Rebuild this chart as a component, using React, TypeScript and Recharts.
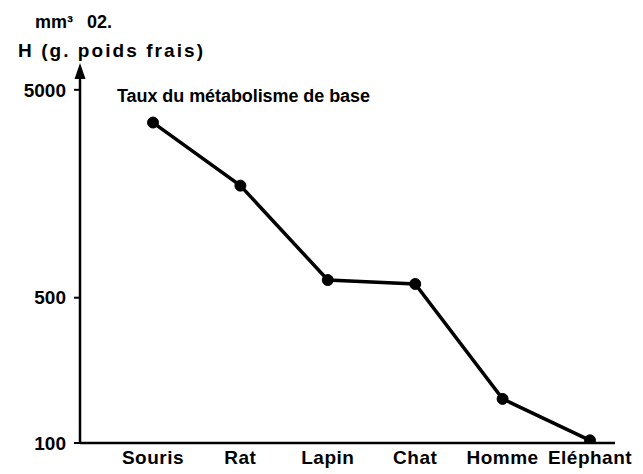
import React from 'react';
import { LineChart, Line, XAxis, YAxis } from 'recharts';

const categories = ['Souris', 'Rat', 'Lapin', 'Chat', 'Homme', 'Eléphant'];
const metabolicRate = [3480, 1730, 608, 582, 163, 103];
const yTicks = [100, 500, 5000];
const yDomain = [100, 5700];
const titleText = 'Taux du métabolisme de base';
const unitPart1 = 'mm³';
const unitPart2 = '02.';
const unitLine2 = 'H (g. poids frais)';

const data = categories.map((name, i) => ({ name, value: metabolicRate[i] }));

const FONT = '"Liberation Sans", Arial, Helvetica, sans-serif';

function AxisDecor(props: any) {
  const vb = props.viewBox || {};
  const ax = (vb.x || 0) + (vb.width || 0);
  const top = vb.y || 0;
  return (
    <g>
      <polygon
        points={`${ax - 5.5},${top + 1} ${ax + 5.5},${top + 1} ${ax},${top - 15}`}
        fill="#000"
      />
      <text x={35} y={28} fontFamily={FONT} fontWeight="bold" fontSize={18} fill="#000">
        {unitPart1}
      </text>
      <text x={87} y={28} fontFamily={FONT} fontWeight="bold" fontSize={18} fill="#000">
        {unitPart2}
      </text>
      <text x={18} y={57} fontFamily={FONT} fontWeight="bold" fontSize={19} fill="#000" textLength={185} lengthAdjust="spacing">
        {unitLine2}
      </text>
      <text x={117} y={102} fontFamily={FONT} fontWeight="bold" fontSize={18} fill="#000" textLength={253} lengthAdjust="spacing">
        {titleText}
      </text>
    </g>
  );
}

export default function App() {
  return (
    <div style={{ position: 'absolute', left: 0, top: 0, width: 643, height: 474, background: '#fff' }}>
      <LineChart
        width={643}
        height={474}
        data={data}
        margin={{ top: 78, right: 28, bottom: 0, left: 0 }}
      >
        <XAxis
          dataKey="name"
          type="category"
          height={31}
          padding={{ left: 73, right: 25 }}
          axisLine={{ stroke: '#000', strokeWidth: 2.5 }}
          tickLine={false}
          tickSize={0}
          tickMargin={8}
          interval={0}
          tick={{ fill: '#000', fontSize: 19, fontWeight: 'bold', fontFamily: FONT, letterSpacing: 0.5 }}
        />
        <YAxis
          type="number"
          scale="log"
          domain={yDomain}
          ticks={yTicks}
          allowDataOverflow
          width={80}
          axisLine={{ stroke: '#000', strokeWidth: 2.5 }}
          tickLine={{ stroke: '#000', strokeWidth: 2 }}
          tickSize={6}
          tickMargin={8}
          tick={{ fill: '#000', fontSize: 19, fontWeight: 'bold', fontFamily: FONT }}
          label={{ content: AxisDecor }}
        />
        <Line
          type="linear"
          dataKey="value"
          stroke="#000"
          strokeWidth={3.5}
          dot={{ r: 5.5, fill: '#000', stroke: '#000', strokeWidth: 1 }}
          isAnimationActive={false}
        />
      </LineChart>
    </div>
  );
}
